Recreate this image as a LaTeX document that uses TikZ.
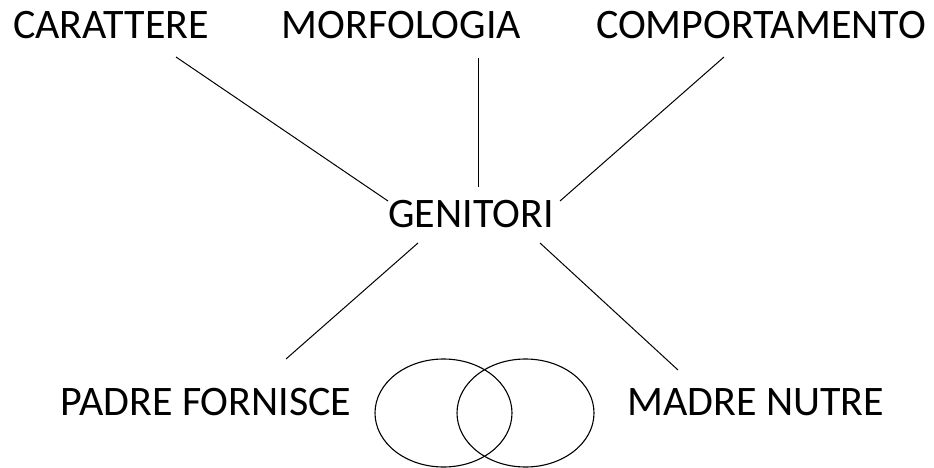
\documentclass[tikz,border=0pt]{standalone}
\usepackage{fontspec}
\setmainfont{Carlito}
\begin{document}
\begin{tikzpicture}[x=1pt,y=-1pt,
  lbl/.style={anchor=base,inner sep=0pt,font=\fontsize{42}{48}\selectfont},
  conn/.style={line width=1pt,black},
  circ/.style={line width=1.1pt,black}]
\useasboundingbox (0,0) rectangle (934,468);
\node[lbl] (car) at (111,39) {CARATTERE};
\node[lbl] (mor) at (401.5,39) {MORFOLOGIA};
\node[lbl] (com) at (761,39) {COMPORTAMENTO};
\node[lbl] (gen) at (471,227) {GENITORI};
\node[lbl] (pad) at (206,415) {PADRE FORNISCE};
\node[lbl] (mad) at (755.5,415) {MADRE NUTRE};
% connector end points
\coordinate (car1) at (176,57);
\coordinate (car2) at (388,201);
\coordinate (mor1) at (478,58);
\coordinate (mor2) at (478,187);
\coordinate (com1) at (724,57);
\coordinate (com2) at (560,201);
\coordinate (pad1) at (418,243);
\coordinate (pad2) at (286,359);
\coordinate (mad1) at (540,243);
\coordinate (mad2) at (678,370);
\draw[conn] (car1) -- (car2);
\draw[conn] (mor1) -- (mor2);
\draw[conn] (com1) -- (com2);
\draw[conn] (pad1) -- (pad2);
\draw[conn] (mad1) -- (mad2);
\draw[circ] (443.5,413) ellipse [x radius=68.5, y radius=54];
\draw[circ] (525.5,413) ellipse [x radius=68.5, y radius=54];
\end{tikzpicture}
\end{document}
